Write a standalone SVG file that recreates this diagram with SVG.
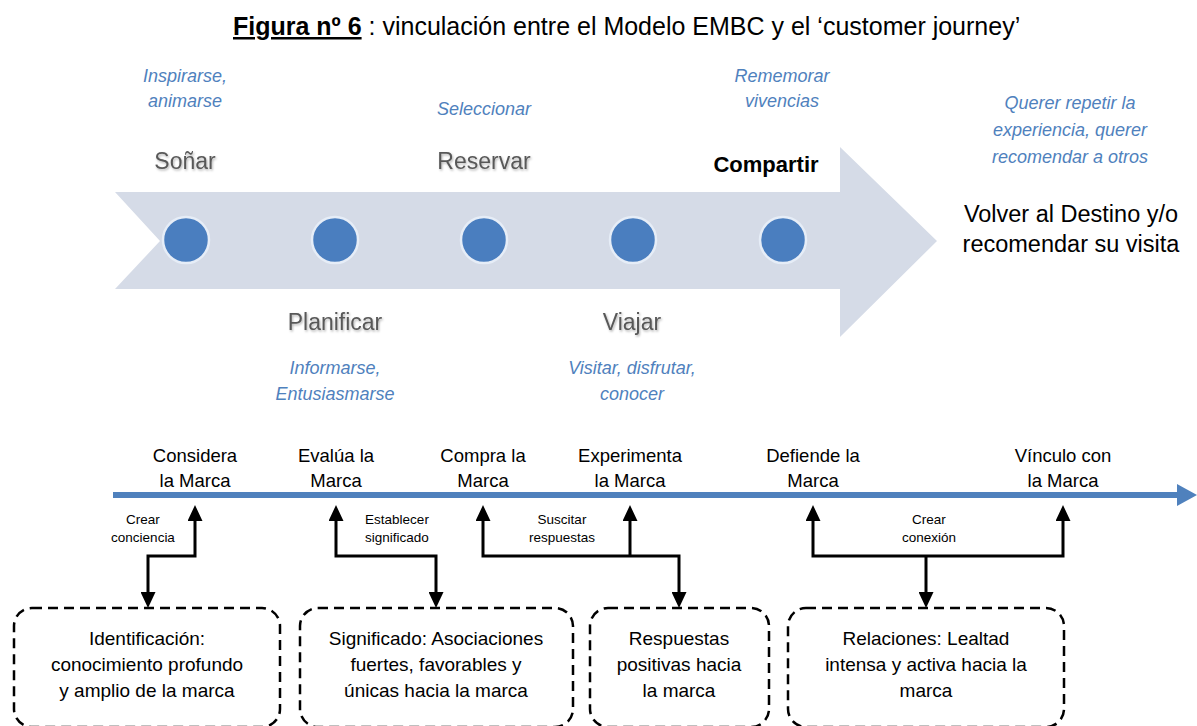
<svg xmlns="http://www.w3.org/2000/svg" width="1197" height="726" viewBox="0 0 1197 726">
<style>
text{font-family:"Liberation Sans",Arial,sans-serif}
.title{font-size:25px;fill:#000}
.ital{font-size:18px;font-style:italic;fill:#4f81bd;text-anchor:middle}
.stage{font-size:23px;fill:#595959;text-anchor:middle;filter:url(#sh)}
.big{font-size:23.5px;fill:#000;text-anchor:middle}
.lbl{font-size:18.5px;fill:#000;text-anchor:middle}
.small{font-size:13.5px;fill:#000;text-anchor:middle}
.box{fill:none;stroke:#000;stroke-width:2.5;stroke-dasharray:10 6}
.btxt{font-size:19px;fill:#000;text-anchor:middle}
.conn{fill:none;stroke:#000;stroke-width:3}
.dot{fill:#4a7ebf;stroke:#e6edf7;stroke-width:2.5}
</style>
<defs>
<marker id="ah" markerUnits="userSpaceOnUse" markerWidth="16" markerHeight="15" refX="0" refY="7.5" orient="auto-start-reverse" viewBox="0 0 16 15">
<path d="M0,0 L16,7.5 L0,15 z" fill="#000"/>
</marker>
<filter id="sh" x="-10%" y="-20%" width="130%" height="150%">
<feDropShadow dx="1" dy="1.5" stdDeviation="1" flood-color="#000" flood-opacity="0.3"/>
</filter>
</defs>

<g id="title">
<text class="title" x="233" y="35"><tspan font-weight="bold" text-decoration="underline">Figura nº 6</tspan> : vinculación entre el Modelo EMBC y el ‘customer journey’</text>
</g>

<g id="journey-arrow">
<polygon points="115,192 840,192 840,147 937,241 840,337 840,289 115,289 160,241" fill="#d5dbe7"/>
<circle class="dot" cx="186" cy="240" r="23"/>
<circle class="dot" cx="335" cy="240" r="23"/>
<circle class="dot" cx="484" cy="240" r="23"/>
<circle class="dot" cx="633" cy="240" r="23"/>
<circle class="dot" cx="783" cy="240" r="23"/>
</g>

<g id="stage-sonar">
<text class="ital" x="185" y="82">Inspirarse,</text>
<text class="ital" x="185" y="107">animarse</text>
<text class="stage" x="185" y="169">Soñar</text>
</g>
<g id="stage-planificar">
<text class="stage" x="335" y="330">Planificar</text>
<text class="ital" x="335" y="374">Informarse,</text>
<text class="ital" x="335" y="400">Entusiasmarse</text>
</g>
<g id="stage-reservar">
<text class="ital" x="484" y="115">Seleccionar</text>
<text class="stage" x="484" y="169">Reservar</text>
</g>
<g id="stage-viajar">
<text class="stage" x="632" y="330">Viajar</text>
<text class="ital" x="632" y="374">Visitar, disfrutar,</text>
<text class="ital" x="632" y="400">conocer</text>
</g>
<g id="stage-compartir">
<text class="ital" x="782" y="82">Rememorar</text>
<text class="ital" x="782" y="107">vivencias</text>
<text x="766" y="172" font-size="22" font-weight="bold" text-anchor="middle" fill="#000">Compartir</text>
</g>
<g id="stage-volver">
<text class="ital" x="1070" y="109">Querer repetir la</text>
<text class="ital" x="1070" y="136">experiencia, querer</text>
<text class="ital" x="1070" y="163">recomendar a otros</text>
<text class="big" x="1071" y="222">Volver al Destino y/o</text>
<text class="big" x="1071" y="252">recomendar su visita</text>
</g>

<g id="timeline">
<rect x="113" y="492" width="1067" height="6" fill="#4f81bd"/>
<polygon points="1177,484 1197,495 1177,506" fill="#4f81bd"/>
<text class="lbl" x="195" y="462">Considera</text>
<text class="lbl" x="195" y="487">la Marca</text>
<text class="lbl" x="336" y="462">Evalúa la</text>
<text class="lbl" x="336" y="487">Marca</text>
<text class="lbl" x="483" y="462">Compra la</text>
<text class="lbl" x="483" y="487">Marca</text>
<text class="lbl" x="630" y="462">Experimenta</text>
<text class="lbl" x="630" y="487">la Marca</text>
<text class="lbl" x="813" y="462">Defiende la</text>
<text class="lbl" x="813" y="487">Marca</text>
<text class="lbl" x="1063" y="462">Vínculo con</text>
<text class="lbl" x="1063" y="487">la Marca</text>
</g>

<g id="connectors">
<path class="conn" d="M148,592 V556 H195 V521" marker-start="url(#ah)" marker-end="url(#ah)"/>
<path class="conn" d="M436,592 V556 H336 V521" marker-start="url(#ah)" marker-end="url(#ah)"/>
<path class="conn" d="M483,521 V556 H679 V592" marker-start="url(#ah)" marker-end="url(#ah)"/>
<path class="conn" d="M630,556 V521" marker-end="url(#ah)"/>
<path class="conn" d="M813,521 V556 H1063 V521" marker-start="url(#ah)" marker-end="url(#ah)"/>
<path class="conn" d="M926,556 V592" marker-end="url(#ah)"/>
<text class="small" x="143" y="524">Crear</text>
<text class="small" x="143" y="542">conciencia</text>
<text class="small" x="397" y="524">Establecer</text>
<text class="small" x="397" y="542">significado</text>
<text class="small" x="562" y="524">Suscitar</text>
<text class="small" x="562" y="542">respuestas</text>
<text class="small" x="929" y="524">Crear</text>
<text class="small" x="929" y="542">conexión</text>
</g>

<g id="box-identificacion">
<rect class="box" x="14" y="608" width="266" height="119" rx="18"/>
<text class="btxt" x="147" y="645">Identificación:</text>
<text class="btxt" x="147" y="671">conocimiento profundo</text>
<text class="btxt" x="147" y="697">y amplio de la marca</text>
</g>
<g id="box-significado">
<rect class="box" x="300" y="608" width="273" height="119" rx="18"/>
<text class="btxt" x="436" y="645">Significado: Asociaciones</text>
<text class="btxt" x="436" y="671">fuertes, favorables y</text>
<text class="btxt" x="436" y="697">únicas hacia la marca</text>
</g>
<g id="box-respuestas">
<rect class="box" x="590" y="608" width="179" height="119" rx="18"/>
<text class="btxt" x="679" y="645">Respuestas</text>
<text class="btxt" x="679" y="671">positivas hacia</text>
<text class="btxt" x="679" y="697">la marca</text>
</g>
<g id="box-relaciones">
<rect class="box" x="788" y="608" width="276" height="119" rx="18"/>
<text class="btxt" x="926" y="645">Relaciones: Lealtad</text>
<text class="btxt" x="926" y="671">intensa y activa hacia la</text>
<text class="btxt" x="926" y="697">marca</text>
</g>
</svg>
